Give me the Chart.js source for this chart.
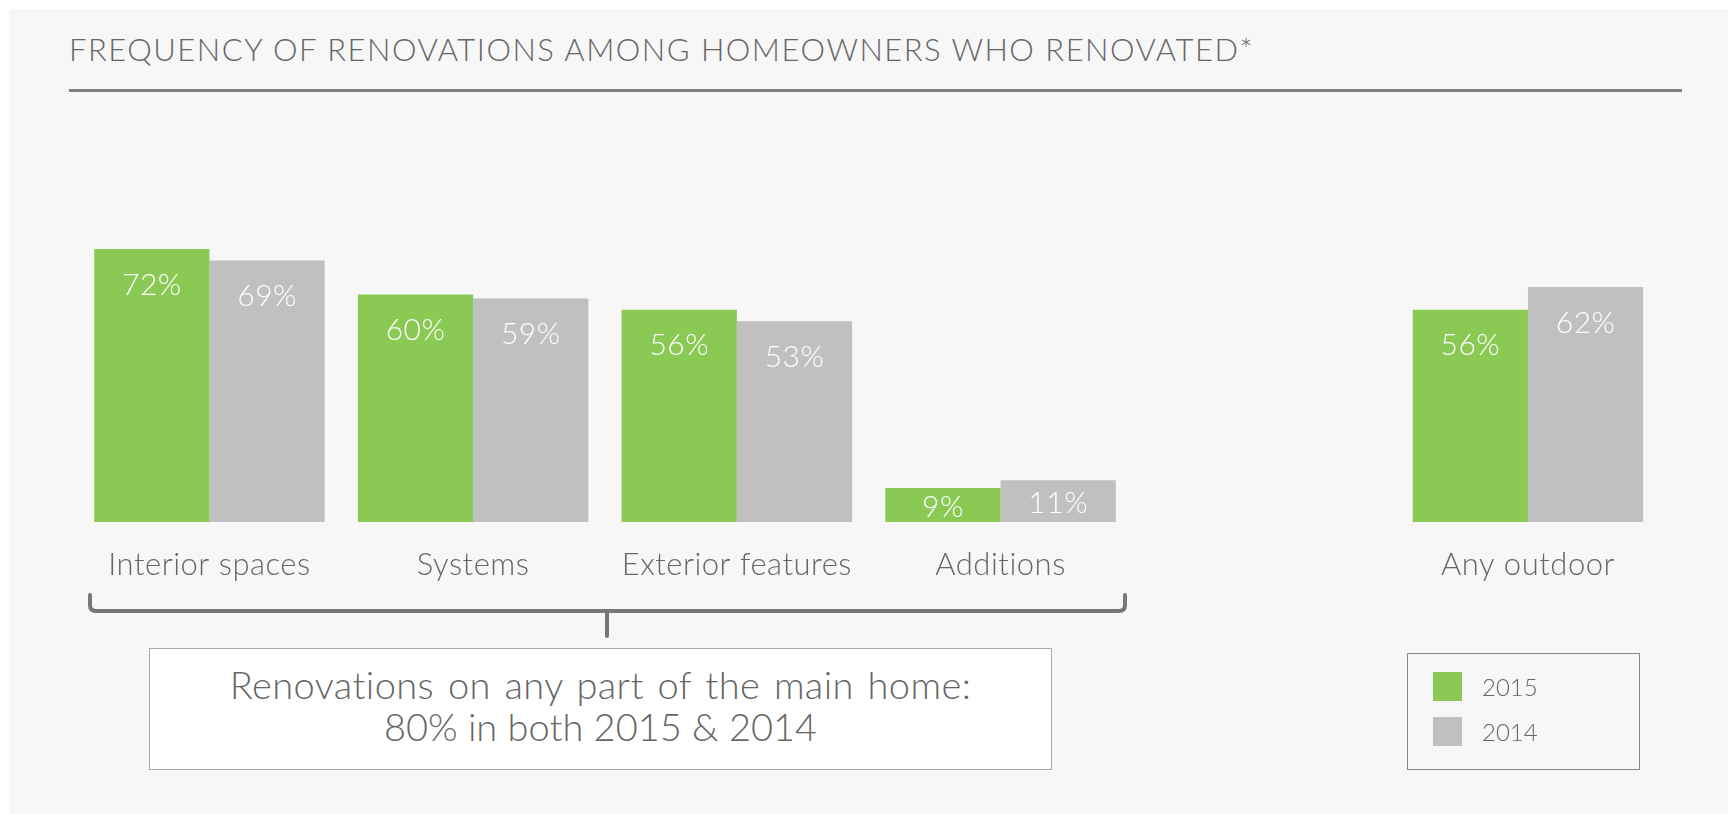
<!DOCTYPE html>
<html>
<head>
<meta charset="utf-8">
<script src="https://cdn.jsdelivr.net/npm/chart.js@4.4.0/dist/chart.umd.js"></script>
<style>
    html, body { margin: 0; padding: 0; background: #ffffff; width: 1728px; height: 814px; overflow: hidden; font-family: 'Lato', sans-serif; font-weight: 300; }
    .panel { position: absolute; left: 9px; top: 9px; right: 0; bottom: 0; background: #f7f7f7; }
    .title { position: absolute; left: 69px; top: 30px; font-size: 31px; color: #666; white-space: nowrap; letter-spacing: 1.5px; }
    .rule { position: absolute; left: 69px; top: 89px; width: 1613px; height: 3px; background: #808080; }
    #chart { position: absolute; left: 0; top: 0; }
    .note { position: absolute; left: 149px; top: 648px; width: 901px; height: 120px; background: #fff; border: 1px solid #aaa;
            color: #666; font-size: 38px; text-align: center; line-height: 42px; box-sizing: content-box; }
    .note div:first-child { margin-top: 14px; word-spacing: 3px; letter-spacing: 0.4px; }
    .legend { position: absolute; left: 1407px; top: 653px; width: 231px; height: 115px; border: 1px solid #888; }
    .legend .item { position: absolute; left: 25px; height: 29px; font-size: 24px; color: #666; line-height: 29px; }
    .legend .swatch { position: absolute; left: 0; top: 0; width: 29px; height: 29px; }
    .legend .label { position: absolute; left: 49px; top: 0; white-space: nowrap; }
</style>
</head>
<body>
<div class="panel"></div>
<div class="title">FREQUENCY OF RENOVATIONS AMONG HOMEOWNERS WHO RENOVATED*</div>
<div class="rule"></div>
<canvas id="chart" width="1728" height="814"></canvas>
<div class="note">
    <div>Renovations on any part of the main home:</div>
    <div>80% in both 2015 &amp; 2014</div>
</div>
<div class="legend" id="legend"></div>
<script>
// Dados do gráfico
const categories = ['Interior spaces', 'Systems', 'Exterior features', 'Additions', '', 'Any outdoor'];
const seriesNames = ['2015', '2014'];
const values2015 = [72, 60, 56, 9, null, 56];
const values2014 = [69, 59, 53, 11, null, 62];
const seriesColors = ['#8bc955', '#c0c0c0'];

// Rótulos de valor dentro das barras
const valueLabels = {
    id: 'valueLabels',
    afterDatasetsDraw(chart) {
        const ctx = chart.ctx;
        ctx.save();
        ctx.fillStyle = '#ffffff';
        ctx.font = '300 30px Lato';
        ctx.letterSpacing = '0.5px';
        ctx.textAlign = 'center';
        ctx.textBaseline = 'middle';
        chart.data.datasets.forEach((ds, di) => {
            chart.getDatasetMeta(di).data.forEach((bar, i) => {
                const v = ds.data[i];
                if (v == null) return;
                const h = bar.base - bar.y;
                const off = Math.min(36, h / 2 + 2);
                ctx.fillText(v + '%', bar.x, bar.y + off);
            });
        });
        ctx.restore();
    }
};

// Rótulos das categorias e chave (bracket)
const categoryLabels = {
    id: 'categoryLabels',
    afterDraw(chart) {
        const ctx = chart.ctx;
        const x = chart.scales.x;
        const bottom = chart.chartArea.bottom;
        ctx.save();
        ctx.fillStyle = '#666666';
        ctx.font = '300 31px Lato';
        ctx.letterSpacing = '0.5px';
        ctx.textAlign = 'center';
        ctx.textBaseline = 'middle';
        categories.forEach((c, i) => {
            if (c) ctx.fillText(c, x.getPixelForValue(i), bottom + 43);
        });

        // chave sob as quatro primeiras categorias
        const left = 90, right = 1125, mid = 607;
        const top = 595, line = 611, tip = 636, r = 6;
        ctx.strokeStyle = '#777777';
        ctx.lineWidth = 4;
        ctx.lineCap = 'round';
        ctx.lineJoin = 'round';
        ctx.beginPath();
        ctx.moveTo(left, top);
        ctx.lineTo(left, line - r);
        ctx.quadraticCurveTo(left, line, left + r, line);
        ctx.lineTo(right - r, line);
        ctx.quadraticCurveTo(right, line, right, line - r);
        ctx.lineTo(right, top);
        ctx.stroke();
        ctx.beginPath();
        ctx.moveTo(mid, line);
        ctx.lineTo(mid, tip);
        ctx.stroke();
        ctx.restore();
    }
};

const ctx = document.getElementById('chart');
new Chart(ctx, {
    type: 'bar',
    data: {
        labels: categories,
        datasets: [
            { label: seriesNames[0], data: values2015, backgroundColor: seriesColors[0], borderWidth: 0 },
            { label: seriesNames[1], data: values2014, backgroundColor: seriesColors[1], borderWidth: 0 }
        ]
    },
    options: {
        responsive: false,
        animation: false,
        devicePixelRatio: 1,
        layout: { padding: { left: 77.6, right: 68.2, top: 143, bottom: 292 } },
        datasets: { bar: { barPercentage: 1, categoryPercentage: 0.874 } },
        plugins: { legend: { display: false }, tooltip: { enabled: false } },
        scales: {
            x: { display: false },
            y: { display: false, min: 0, max: 100 }
        }
    },
    plugins: [valueLabels, categoryLabels]
});

// Legenda
const legend = document.getElementById('legend');
seriesNames.forEach((name, i) => {
    const item = document.createElement('div');
    item.className = 'item';
    item.style.top = (18 + i * 45) + 'px';
    item.innerHTML = '<div class="swatch" style="background:' + seriesColors[i] + '"></div><div class="label">' + name + '</div>';
    legend.appendChild(item);
});
</script>
</body>
</html>
